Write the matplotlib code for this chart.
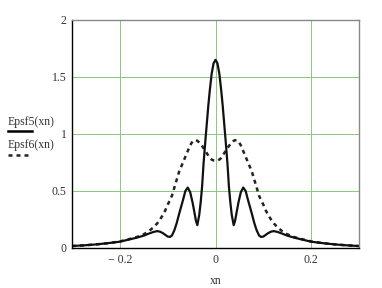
import numpy as np
import matplotlib
matplotlib.use('Agg')
import matplotlib.pyplot as plt
from matplotlib.lines import Line2D

plt.rcParams['font.family'] = ['Liberation Serif', 'DejaVu Serif']

# positive half of each curve (both curves symmetric)
x_half = [0.0, 0.004, 0.008, 0.012, 0.015, 0.018, 0.021, 0.025, 0.028, 0.031, 0.034,
          0.038, 0.041, 0.044, 0.048, 0.053, 0.058, 0.063, 0.068, 0.072, 0.076,
          0.081, 0.086, 0.091, 0.095, 0.1, 0.105, 0.11, 0.116, 0.122, 0.13,
          0.14, 0.15, 0.165, 0.18, 0.2, 0.225, 0.25, 0.275, 0.3]
epsf5_half = [1.65, 1.62, 1.53, 1.38, 1.25, 1.1, 0.95, 0.74, 0.54, 0.4, 0.29,
              0.2, 0.24, 0.31, 0.4, 0.49, 0.53, 0.5, 0.42, 0.36, 0.3,
              0.22, 0.155, 0.11, 0.097, 0.1, 0.115, 0.13, 0.143, 0.148, 0.14,
              0.125, 0.108, 0.09, 0.075, 0.055, 0.042, 0.031, 0.023, 0.017]
epsf6_half = [0.765, 0.768, 0.775, 0.79, 0.81, 0.83, 0.85, 0.875, 0.895, 0.91, 0.925,
              0.94, 0.945, 0.945, 0.935, 0.9, 0.85, 0.8, 0.75, 0.71, 0.67,
              0.6, 0.53, 0.46, 0.42, 0.38, 0.33, 0.29, 0.25, 0.215, 0.18,
              0.145, 0.12, 0.095, 0.078, 0.057, 0.042, 0.031, 0.023, 0.017]

x_ticks = [-0.2, 0, 0.2]
x_ticklabels = ['\u2212 0.2', '0', '0.2']
y_ticks = [0, 0.5, 1, 1.5, 2]
y_ticklabels = ['0', '0.5', '1', '1.5', '2']

xh = np.array(x_half)
xn = np.concatenate([-xh[:0:-1], xh])
epsf5 = np.concatenate([np.array(epsf5_half)[:0:-1], epsf5_half])
epsf6 = np.concatenate([np.array(epsf6_half)[:0:-1], epsf6_half])

fig = plt.figure(figsize=(3.82, 2.88), dpi=100)
ax = fig.add_axes([0.1885, 0.139, 0.7513, 0.7917])

grid_col = '#8cc87c'
for xv in x_ticks:
    ax.axvline(xv, color=grid_col, lw=0.7, zorder=0)
for yv in y_ticks[1:-1]:
    ax.axhline(yv, color=grid_col, lw=0.7, zorder=0)

ax.plot(xn, epsf6, color='#222222', lw=1.8, linestyle=(0, (1.6, 1.6)))
ax.plot(xn, epsf5, color='#111111', lw=1.6)

ax.set_xlim(-0.3, 0.3)
ax.set_ylim(0, 2)
ax.set_xticks(x_ticks)
ax.set_xticklabels(x_ticklabels)
ax.set_yticks(y_ticks)
ax.set_yticklabels(y_ticklabels)
ax.tick_params(length=0, labelsize=8.5, colors='#333333', pad=4)
ax.set_xlabel('xn', fontsize=8.5, color='#333333', labelpad=7)

ax.spines['left'].set_color('black')
ax.spines['bottom'].set_color('black')
ax.spines['top'].set_color('#888888')
ax.spines['right'].set_color('#888888')
for s in ax.spines.values():
    s.set_linewidth(1.0)

# Mathcad-style trace labels on the left
fig.text(8 / 382, 1 - 122 / 288, 'Epsf5(xn)', fontsize=8.5, color='#333333', va='center')
fig.add_artist(Line2D([8 / 382, 32 / 382], [1 - 131 / 288] * 2, color='black', lw=1.8))
fig.text(8 / 382, 1 - 145 / 288, 'Epsf6(xn)', fontsize=8.5, color='#333333', va='center')
fig.add_artist(Line2D([8 / 382, 32 / 382], [1 - 155 / 288] * 2, color='#222222', lw=1.8,
                      linestyle=(0, (1.6, 1.6))))

fig.savefig('out.png', dpi=100)
